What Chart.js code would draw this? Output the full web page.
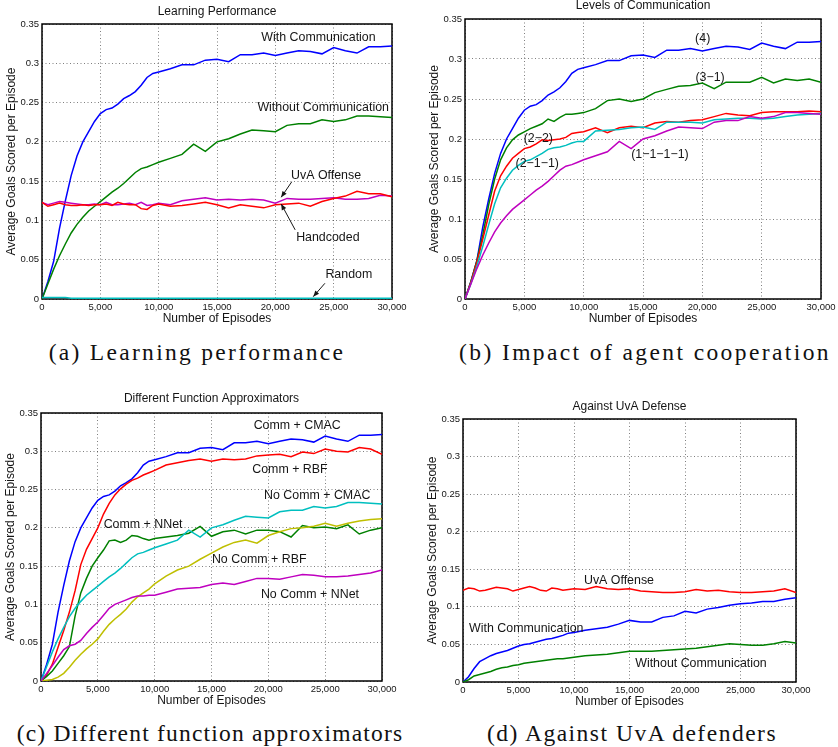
<!DOCTYPE html>
<html lang="en">
<head>
<meta charset="UTF-8">
<title>Keepaway learning curves</title>
<script src="https://cdn.jsdelivr.net/npm/chart.js"></script>
<style>
  body { margin: 0; background: #fff; width: 838px; height: 747px; position: relative; overflow: hidden; }
  .panel { position: absolute; }
  .caption {
    position: absolute; white-space: nowrap; color: #111;
    font-family: 'Liberation Serif', 'Times New Roman', serif; font-size: 23.5px;
    transform: translate(-50%, -50%);
  }
</style>
</head>
<body>
<div class="panel" style="left:0px; top:0px"><canvas id="chartA" width="416" height="327"></canvas></div>
<div class="panel" style="left:423px; top:-5px"><canvas id="chartB" width="422" height="332"></canvas></div>
<div class="panel" style="left:-1px; top:389px"><canvas id="chartC" width="407" height="320"></canvas></div>
<div class="panel" style="left:421px; top:395px"><canvas id="chartD" width="399" height="315"></canvas></div>

<div class="caption" style="left:197px; top:352px; letter-spacing:2.3px">(a) Learning performance</div>
<div class="caption" style="left:645px; top:352px; letter-spacing:2.4px">(b) Impact of agent cooperation</div>
<div class="caption" style="left:210px; top:733px; letter-spacing:1.2px">(c) Different function approximators</div>
<div class="caption" style="left:632px; top:733px; letter-spacing:1.5px">(d) Against UvA defenders</div>

<script>
const episodes = [0, 500, 1000, 1500, 2000, 2500, 3000, 3500, 4000, 4500, 5000,
  5500, 6000, 6500, 7000, 7500, 8000, 8500, 9000, 9500, 10000,
  11000, 12000, 13000, 14000, 15000, 16000, 17000, 18000, 19000, 20000,
  21000, 22000, 23000, 24000, 25000, 26000, 27000, 28000, 29000, 30000];

// with communication (= (4) = Comm + CMAC)
const withComm = [0, 0.022, 0.048, 0.09, 0.125, 0.157, 0.182, 0.2, 0.213, 0.226, 0.236,
  0.241, 0.243, 0.248, 0.255, 0.259, 0.264, 0.272, 0.282, 0.287, 0.289,
  0.293, 0.298, 0.298, 0.304, 0.305, 0.302, 0.311, 0.311, 0.313, 0.31,
  0.313, 0.316, 0.315, 0.312, 0.32, 0.316, 0.313, 0.321, 0.321, 0.322];
// without communication (= (1-1-1-1) = No Comm + CMAC)
const withoutComm = [0, 0.019, 0.038, 0.055, 0.07, 0.084, 0.095, 0.104, 0.112, 0.118, 0.124,
  0.13, 0.136, 0.141, 0.147, 0.154, 0.161, 0.166, 0.168, 0.171, 0.174,
  0.179, 0.184, 0.197, 0.188, 0.2, 0.204, 0.21, 0.215, 0.214, 0.213,
  0.221, 0.223, 0.223, 0.228, 0.226, 0.228, 0.233, 0.233, 0.232, 0.231];
const handcoded = [0.123, 0.118, 0.12, 0.122, 0.12, 0.119, 0.119, 0.12, 0.119, 0.12, 0.12,
  0.121, 0.119, 0.123, 0.121, 0.12, 0.12, 0.115, 0.114, 0.119, 0.121,
  0.118, 0.119, 0.121, 0.123, 0.12, 0.116, 0.12, 0.118, 0.116, 0.12,
  0.121, 0.122, 0.118, 0.124, 0.128, 0.131, 0.137, 0.134, 0.134, 0.13];
const uvaOffense = [0.123, 0.12, 0.122, 0.124, 0.123, 0.122, 0.121, 0.12, 0.12, 0.121, 0.12,
  0.123, 0.12, 0.12, 0.121, 0.122, 0.12, 0.123, 0.119, 0.12, 0.122,
  0.12, 0.125, 0.127, 0.129, 0.126, 0.127, 0.126, 0.127, 0.126, 0.122,
  0.128, 0.127, 0.127, 0.128, 0.129, 0.127, 0.127, 0.128, 0.132, 0.131];
const random = [0.002, 0.002, 0.002, 0.002, 0.002, 0.001, 0.001, 0.001, 0.001, 0.001, 0.001,
  0.001, 0.001, 0.001, 0.001, 0.001, 0.001, 0.001, 0.001, 0.001, 0.001,
  0.001, 0.001, 0.001, 0.001, 0.001, 0.001, 0.001, 0.001, 0.001, 0.001,
  0.001, 0.001, 0.001, 0.001, 0.001, 0.001, 0.001, 0.001, 0.001, 0.001];

// levels of communication
const level31 = [0, 0.022, 0.048, 0.08, 0.118, 0.15, 0.174, 0.189, 0.199, 0.205, 0.209,
  0.213, 0.216, 0.219, 0.225, 0.222, 0.227, 0.231, 0.231, 0.232, 0.233,
  0.238, 0.248, 0.25, 0.247, 0.25, 0.258, 0.262, 0.266, 0.267, 0.27,
  0.263, 0.271, 0.271, 0.271, 0.277, 0.27, 0.275, 0.273, 0.275, 0.271];
const level22 = [0, 0.021, 0.046, 0.075, 0.105, 0.135, 0.154, 0.166, 0.176, 0.182, 0.188,
  0.19, 0.194, 0.199, 0.198, 0.199, 0.2, 0.202, 0.207, 0.208, 0.209,
  0.214, 0.208, 0.214, 0.216, 0.214, 0.22, 0.222, 0.221, 0.223, 0.224,
  0.228, 0.232, 0.23, 0.229, 0.233, 0.234, 0.234, 0.234, 0.235, 0.234];
const level211 = [0, 0.019, 0.041, 0.066, 0.093, 0.119, 0.139, 0.151, 0.161, 0.167, 0.172,
  0.174, 0.178, 0.182, 0.187, 0.189, 0.19, 0.192, 0.195, 0.197, 0.197,
  0.21, 0.211, 0.212, 0.214, 0.215, 0.212, 0.221, 0.221, 0.221, 0.22,
  0.224, 0.225, 0.226, 0.226, 0.225, 0.226, 0.228, 0.23, 0.231, 0.232];

// function approximators
const commRbf = [0, 0.008, 0.022, 0.044, 0.066, 0.09, 0.118, 0.152, 0.172, 0.186, 0.2,
  0.218, 0.232, 0.243, 0.251, 0.257, 0.262, 0.265, 0.269, 0.272, 0.275,
  0.282, 0.285, 0.288, 0.29, 0.287, 0.29, 0.289, 0.29, 0.294, 0.295,
  0.296, 0.293, 0.299, 0.297, 0.303, 0.3, 0.299, 0.305, 0.303, 0.296];
const commNnet = [0, 0.006, 0.013, 0.023, 0.033, 0.045, 0.085, 0.115, 0.134, 0.15, 0.161,
  0.171, 0.183, 0.184, 0.181, 0.184, 0.19, 0.189, 0.186, 0.184, 0.186,
  0.188, 0.19, 0.193, 0.202, 0.189, 0.195, 0.197, 0.192, 0.197, 0.197,
  0.195, 0.188, 0.203, 0.2, 0.201, 0.199, 0.204, 0.192, 0.197, 0.2];
const noCommRbf = [0, 0.001, 0.002, 0.005, 0.01, 0.018, 0.027, 0.035, 0.042, 0.048, 0.055,
  0.065, 0.074, 0.081, 0.087, 0.094, 0.103, 0.11, 0.115, 0.12, 0.127,
  0.137, 0.145, 0.15, 0.159, 0.167, 0.175, 0.181, 0.184, 0.18, 0.19,
  0.195, 0.199, 0.2, 0.202, 0.206, 0.202, 0.206, 0.209, 0.211, 0.212];
const noCommNnet = [0, 0.01, 0.02, 0.031, 0.041, 0.046, 0.048, 0.053, 0.062, 0.07, 0.077,
  0.086, 0.095, 0.1, 0.103, 0.106, 0.109, 0.111, 0.111, 0.112, 0.112,
  0.116, 0.12, 0.121, 0.122, 0.126, 0.128, 0.126, 0.13, 0.134, 0.134,
  0.133, 0.136, 0.139, 0.138, 0.136, 0.136, 0.137, 0.139, 0.141, 0.145];

// against UvA defense
const defUvaOffense = [0.122, 0.125, 0.124, 0.121, 0.122, 0.124, 0.126, 0.125, 0.124, 0.121, 0.123,
  0.125, 0.127, 0.125, 0.122, 0.121, 0.125, 0.124, 0.122, 0.123, 0.124,
  0.123, 0.127, 0.124, 0.123, 0.124, 0.121, 0.12, 0.119, 0.119, 0.12,
  0.123, 0.121, 0.122, 0.12, 0.119, 0.119, 0.12, 0.121, 0.124, 0.119];
const defWithComm = [0, 0.007, 0.018, 0.027, 0.031, 0.035, 0.038, 0.04, 0.042, 0.045, 0.048,
  0.05, 0.051, 0.053, 0.055, 0.057, 0.058, 0.06, 0.062, 0.065, 0.066,
  0.069, 0.071, 0.073, 0.077, 0.082, 0.08, 0.08, 0.086, 0.088, 0.094,
  0.092, 0.097, 0.099, 0.102, 0.104, 0.105, 0.107, 0.107, 0.11, 0.112];
const defWithoutComm = [0, 0.003, 0.008, 0.01, 0.012, 0.014, 0.017, 0.019, 0.02, 0.022, 0.023,
  0.025, 0.026, 0.027, 0.028, 0.029, 0.03, 0.031, 0.031, 0.032, 0.033,
  0.035, 0.036, 0.037, 0.039, 0.041, 0.041, 0.041, 0.042, 0.043, 0.044,
  0.045, 0.047, 0.049, 0.051, 0.05, 0.049, 0.049, 0.051, 0.054, 0.052];

const C = { blue: '#0000ff', green: '#008000', red: '#ff0000', cyan: '#00bfbf', magenta: '#bf00bf', yellow: '#bfbf00' };
const FONT = "'Liberation Sans', Arial, Helvetica, sans-serif";
const INK = '#151515';

function series(values, color) {
  return {
    data: episodes.map((e, i) => ({ x: e, y: values[i] })),
    borderColor: color, borderWidth: 1.5, pointRadius: 0, fill: false, tension: 0
  };
}

function arrow(ctx, x1, y1, x2, y2) {
  const ang = Math.atan2(y2 - y1, x2 - x1);
  ctx.beginPath(); ctx.moveTo(x1, y1); ctx.lineTo(x2, y2); ctx.stroke();
  ctx.beginPath();
  ctx.moveTo(x2, y2);
  ctx.lineTo(x2 - 6 * Math.cos(ang) + 2.5 * Math.sin(ang), y2 - 6 * Math.sin(ang) - 2.5 * Math.cos(ang));
  ctx.lineTo(x2 - 6 * Math.cos(ang) - 2.5 * Math.sin(ang), y2 - 6 * Math.sin(ang) + 2.5 * Math.cos(ang));
  ctx.closePath(); ctx.fill();
}

// frame, title and curve labels
const panelText = {
  id: 'panelText',
  beforeDatasetsDraw(chart) {
    const { ctx, chartArea: a } = chart;
    ctx.save();
    ctx.strokeStyle = '#000'; ctx.lineWidth = 1.5;
    ctx.strokeRect(a.left, a.top, a.width, a.height);
    ctx.restore();
  },
  afterDatasetsDraw(chart, args, opts) {
    const { ctx, chartArea: a, scales: { x, y } } = chart;
    ctx.save();
    ctx.fillStyle = INK; ctx.strokeStyle = INK; ctx.lineWidth = 1;
    ctx.textAlign = 'center'; ctx.textBaseline = 'middle';
    ctx.font = '12px ' + FONT;
    ctx.fillText(opts.title, (a.left + a.right) / 2, a.top - opts.titleGap);
    ctx.font = '12.4px ' + FONT;
    (opts.notes || []).forEach(n => ctx.fillText(n.text, x.getPixelForValue(n.x), y.getPixelForValue(n.y)));
    (opts.arrows || []).forEach(r => arrow(ctx,
      x.getPixelForValue(r[0]), y.getPixelForValue(r[1]),
      x.getPixelForValue(r[2]), y.getPixelForValue(r[3])));
    ctx.restore();
  }
};

function makeChart(id, datasets, text) {
  const tickFont = { family: FONT, size: 9.5 };
  const titleFont = { family: FONT, size: 12 };
  const grid = { drawTicks: false, color: 'rgba(0,0,0,0.5)', lineWidth: 1 };
  const border = { display: false, dash: [1, 2.5] };
  return new Chart(document.getElementById(id), {
    type: 'line',
    data: { datasets },
    options: {
      responsive: false,
      animation: false,
      devicePixelRatio: 1,
      layout: { padding: { left: 0, top: 24, right: 24, bottom: 0 } },
      plugins: { legend: { display: false }, tooltip: { enabled: false }, panelText: text },
      scales: {
        x: {
          type: 'linear', min: 0, max: 30000,
          afterFit: s => { s.height = 28; },
          grid, border,
          ticks: { stepSize: 5000, padding: 3, maxRotation: 0, autoSkip: false, color: INK, font: tickFont,
            callback: v => v.toLocaleString('en-US') },
          title: { display: true, text: 'Number of Episodes', color: INK, font: titleFont, padding: { top: 0, bottom: 1 } }
        },
        y: {
          min: 0, max: 0.35,
          afterFit: s => { s.width = 42; },
          grid, border,
          ticks: { stepSize: 0.05, padding: 3, color: INK, font: tickFont,
            callback: v => String(+v.toFixed(2)) },
          title: { display: true, text: 'Average Goals Scored per Episode', color: INK, font: titleFont, padding: { top: 4.5, bottom: 0 } }
        }
      }
    },
    plugins: [panelText]
  });
}

makeChart('chartA', [
  series(random, C.cyan),
  series(handcoded, C.red),
  series(uvaOffense, C.magenta),
  series(withoutComm, C.green),
  series(withComm, C.blue)
], {
  title: 'Learning Performance', titleGap: 12,
  notes: [
    { text: 'With Communication', x: 23700, y: 0.333 },
    { text: 'Without Communication', x: 24100, y: 0.243 },
    { text: 'UvA Offense', x: 24350, y: 0.157 },
    { text: 'Handcoded', x: 24500, y: 0.078 },
    { text: 'Random', x: 26300, y: 0.0305 }
  ],
  arrows: [
    [21400, 0.149, 20500, 0.1295],
    [21700, 0.088, 20500, 0.121],
    [24250, 0.02, 23250, 0.003]
  ]
});

makeChart('chartB', [
  series(withoutComm, C.magenta),
  series(level211, C.cyan),
  series(level22, C.red),
  series(level31, C.green),
  series(withComm, C.blue)
], {
  title: 'Levels of Communication', titleGap: 13.3,
  notes: [
    { text: '(4)', x: 20030, y: 0.326 },
    { text: '(3\u22121)', x: 20650, y: 0.2767 },
    { text: '(2\u22122)', x: 6180, y: 0.2008 },
    { text: '(2\u22121\u22121)', x: 6090, y: 0.1688 },
    { text: '(1\u22121\u22121\u22121)', x: 16430, y: 0.1808 }
  ]
});

makeChart('chartC', [
  series(noCommNnet, C.magenta),
  series(noCommRbf, C.yellow),
  series(withoutComm, C.cyan),
  series(commNnet, C.green),
  series(commRbf, C.red),
  series(withComm, C.blue)
], {
  title: 'Different Function Approximators', titleGap: 14,
  notes: [
    { text: 'Comm + CMAC', x: 22540, y: 0.333 },
    { text: 'Comm + RBF', x: 21900, y: 0.2765 },
    { text: 'No Comm + CMAC', x: 24300, y: 0.2425 },
    { text: 'Comm + NNet', x: 8980, y: 0.2047 },
    { text: 'No Comm + RBF', x: 19200, y: 0.158 },
    { text: 'No Comm + NNet', x: 23660, y: 0.1133 }
  ]
});

makeChart('chartD', [
  series(defWithoutComm, C.green),
  series(defWithComm, C.blue),
  series(defUvaOffense, C.red)
], {
  title: 'Against UvA Defense', titleGap: 12.3,
  notes: [
    { text: 'UvA Offense', x: 14050, y: 0.1355 },
    { text: 'With Communication', x: 5700, y: 0.0715 },
    { text: 'Without Communication', x: 21440, y: 0.0245 }
  ]
});
</script>
</body>
</html>
